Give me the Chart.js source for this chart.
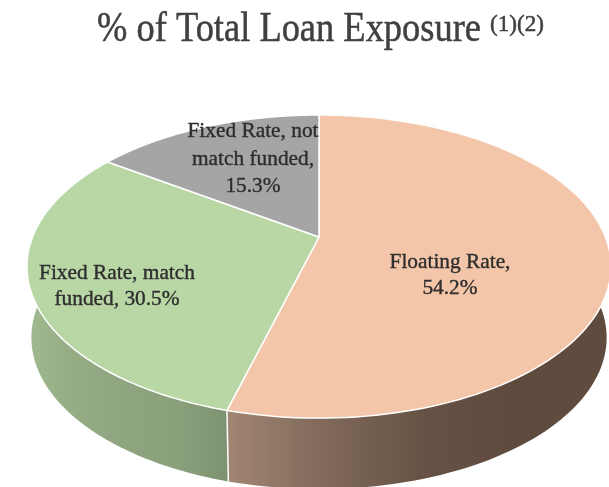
<!DOCTYPE html>
<html>
<head>
<meta charset="utf-8">
<style>
  html, body { margin: 0; background: #fff; }
  #wrap { width: 609px; height: 487px; }
</style>
<script src="https://cdn.jsdelivr.net/npm/chart.js@4"></script>
</head>
<body>
<div id="wrap"><canvas id="loans" width="609" height="487"></canvas></div>
<script>
const categories = ["Floating Rate", "Fixed Rate, match funded", "Fixed Rate, not match funded"];
const shares = [54.2, 30.5, 15.3];
const faceColors = ["#f4c6a9", "#b9d6a5", "#a5a5a5"];
const wallColors = [
  ["#a18672", "#80695a", "#675345", "#5e4b3e", "#5f4c3f"],
  ["#a0b98f", "#94ab84", "#8ea580", "#8aa07b", "#7c9270"],
  ["#8a8a8a", "#8a8a8a", "#8a8a8a", "#8a8a8a", "#8a8a8a"],
];
// wrapped label text, the share gets appended to the last line
const labelLines = [["Floating Rate,", ""], ["Fixed Rate, match", "funded, "], ["Fixed Rate, not", "match funded,", ""]];

// pie disc seen in perspective: centre, half axes, foreshortening, wall height
const disc = { x: 319, y: 237, a: 286.4, b: 145.8, k: -0.195, depth: 71, shrink: 0.985 };

function project(angle) {
  const u = Math.cos(angle), v = Math.sin(angle);
  const w = 1 + disc.k * v;
  return { x: disc.x + disc.a * u / w, y: disc.y + disc.b * v / w };
}

function arcPoints(arc) {
  const pts = [];
  const steps = 120;
  for (let i = 0; i <= steps; i++) {
    pts.push(project(arc.startAngle + (arc.endAngle - arc.startAngle) * i / steps));
  }
  return pts;
}

const lower = (p) => ({ x: disc.x + (p.x - disc.x) * disc.shrink, y: p.y + disc.depth });

// slightly heavy text, the plain serif looks too thin at these sizes
function heavyText(ctx, text, x, y, width) {
  ctx.fillText(text, x, y, width);
  ctx.strokeText(text, x, y, width);
}

const tiltedPie = {
  id: "tiltedPie",
  // the arc elements give the angles, the drawing itself is done here
  beforeDatasetsDraw(chart) {
    const ctx = chart.ctx;
    const arcs = chart.getDatasetMeta(0).data;

    arcs.forEach((arc, i) => {
      const pts = arcPoints(arc);
      const grad = ctx.createLinearGradient(i === 0 ? 229 : 28, 0, i === 0 ? 609 : 229, 0);
      wallColors[i].forEach((c, j) => grad.addColorStop(j / 4, c));
      ctx.beginPath();
      pts.forEach((p) => ctx.lineTo(p.x, p.y));
      pts.slice().reverse().forEach((p) => {
        const q = lower(p);
        ctx.lineTo(q.x, q.y);
      });
      ctx.closePath();
      ctx.fillStyle = grad;
      ctx.fill();
    });

    // seam on the wall between the two front slices
    const seam = project(arcs[0].endAngle);
    const seamEnd = lower(seam);
    ctx.beginPath();
    ctx.moveTo(seam.x, seam.y);
    ctx.lineTo(seamEnd.x, seamEnd.y);
    ctx.strokeStyle = "#fff";
    ctx.lineWidth = 1.5;
    ctx.stroke();

    arcs.forEach((arc, i) => {
      ctx.beginPath();
      ctx.moveTo(disc.x, disc.y);
      arcPoints(arc).forEach((p) => ctx.lineTo(p.x, p.y));
      ctx.closePath();
      ctx.fillStyle = faceColors[i];
      ctx.fill();
      ctx.strokeStyle = "#fff";
      ctx.lineWidth = 1.5;
      ctx.lineJoin = "round";
      ctx.stroke();
    });
    return false;
  },
  afterDraw(chart) {
    const ctx = chart.ctx;
    ctx.textAlign = "center";
    ctx.textBaseline = "alphabetic";

    ctx.fillStyle = ctx.strokeStyle = "#404040";
    ctx.lineWidth = 0.5;
    ctx.font = '42px "Liberation Serif"';
    heavyText(ctx, "% of Total Loan Exposure", 289, 41, 384);
    ctx.font = '24px "Liberation Serif"';
    heavyText(ctx, "(1)(2)", 517, 31, 54);

    ctx.fillStyle = ctx.strokeStyle = "#2e2e2e";
    ctx.lineWidth = 0.4;
    ctx.font = '22px "Liberation Serif"';
    const spots = [[450, 268, 26], [117, 279, 26], [253, 137, 27.5]];
    labelLines.forEach((lines, i) => {
      const [x, y, lead] = spots[i];
      lines.forEach((line, j) => {
        const text = j === lines.length - 1 ? `${line}${shares[i]}%` : line;
        heavyText(ctx, text, x, y + j * lead, ctx.measureText(text).width * 0.97);
      });
    });
  },
};

new Chart(document.getElementById("loans"), {
  type: "pie",
  data: {
    labels: categories,
    datasets: [{ data: shares, backgroundColor: faceColors, borderColor: "#fff" }],
  },
  options: {
    responsive: false,
    animation: false,
    plugins: {
      legend: { display: false },
      tooltip: { enabled: false },
    },
  },
  plugins: [tiltedPie],
});
</script>
</body>
</html>
